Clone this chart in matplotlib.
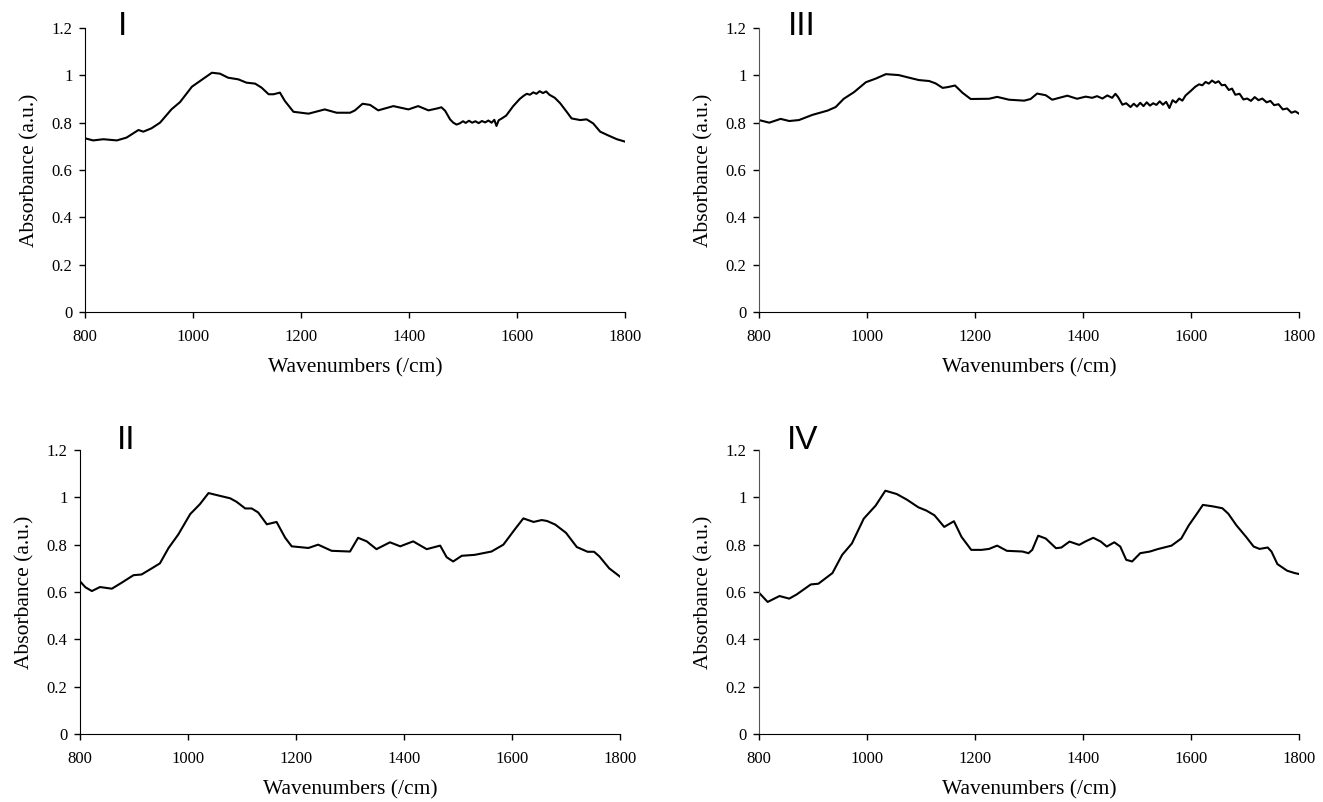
import matplotlib.pyplot as plt

# Spectra (wavenumber in /cm, absorbance in a.u.)
wn_I = [800, 815, 834, 859, 877, 899, 908, 923, 939, 960, 976, 998, 1013, 1035, 1050, 1065, 1084, 1099,
        1115, 1127, 1140, 1149, 1161, 1170, 1186, 1214, 1244, 1266, 1291, 1300, 1314, 1328, 1343, 1371,
        1399, 1417, 1436, 1454, 1460, 1467, 1476, 1482, 1488, 1494, 1500, 1505, 1511, 1517, 1523, 1529,
        1535, 1541, 1547, 1553, 1558, 1562, 1566, 1572, 1580, 1593, 1605, 1612, 1618, 1624, 1630, 1636,
        1642, 1648, 1654, 1660, 1670, 1680, 1692, 1701, 1717, 1729, 1741, 1754, 1770, 1785, 1800]
abs_I = [0.734, 0.725, 0.730, 0.725, 0.737, 0.769, 0.762, 0.776, 0.800, 0.856, 0.887, 0.952, 0.976, 1.011,
         1.007, 0.990, 0.983, 0.969, 0.965, 0.948, 0.920, 0.920, 0.927, 0.892, 0.846, 0.838, 0.856, 0.842,
         0.842, 0.852, 0.880, 0.875, 0.852, 0.870, 0.856, 0.870, 0.852, 0.861, 0.865, 0.850, 0.814, 0.800,
         0.792, 0.797, 0.806, 0.799, 0.808, 0.800, 0.806, 0.798, 0.807, 0.801, 0.809, 0.800, 0.812, 0.786,
         0.810, 0.818, 0.830, 0.870, 0.900, 0.913, 0.922, 0.918, 0.928, 0.922, 0.933, 0.925, 0.932, 0.918,
         0.905, 0.882, 0.846, 0.818, 0.811, 0.814, 0.797, 0.762, 0.745, 0.730, 0.720]

wn_II = [800, 810, 822, 837, 859, 877, 899, 914, 933, 948, 964, 982, 1004, 1022, 1038, 1056, 1078, 1090,
         1106, 1118, 1130, 1146, 1164, 1180, 1192, 1223, 1241, 1266, 1300, 1315, 1331, 1349, 1374, 1393,
         1417, 1442, 1467, 1479, 1491, 1507, 1531, 1562, 1584, 1605, 1621, 1640, 1655, 1665, 1680, 1700,
         1720, 1740, 1752, 1762, 1780, 1800]
abs_II = [0.645, 0.620, 0.604, 0.621, 0.614, 0.639, 0.671, 0.674, 0.700, 0.721, 0.786, 0.843, 0.929, 0.971,
          1.018, 1.008, 0.996, 0.981, 0.953, 0.953, 0.936, 0.886, 0.896, 0.829, 0.793, 0.786, 0.800, 0.774,
          0.771, 0.829, 0.814, 0.781, 0.810, 0.793, 0.814, 0.781, 0.796, 0.747, 0.729, 0.753, 0.757, 0.771,
          0.800, 0.864, 0.911, 0.896, 0.904, 0.900, 0.885, 0.850, 0.790, 0.770, 0.770, 0.750, 0.700, 0.665]

wn_III = [800, 819, 840, 856, 874, 899, 927, 942, 957, 976, 998, 1016, 1035, 1059, 1078, 1096, 1115, 1127,
          1140, 1149, 1163, 1177, 1192, 1226, 1241, 1263, 1291, 1303, 1315, 1331, 1343, 1371, 1389, 1405,
          1417, 1426, 1436, 1445, 1454, 1460, 1465, 1473, 1480, 1488, 1494, 1500, 1506, 1512, 1518, 1524,
          1530, 1536, 1542, 1548, 1554, 1560, 1566, 1572, 1578, 1584, 1590, 1600, 1608, 1615, 1621, 1627,
          1633, 1639, 1645, 1651, 1657, 1663, 1670, 1676, 1682, 1690, 1697, 1704, 1711, 1718, 1725, 1732,
          1740, 1747, 1754, 1762, 1770, 1778, 1786, 1793, 1800]
abs_III = [0.811, 0.800, 0.816, 0.807, 0.811, 0.833, 0.851, 0.866, 0.901, 0.929, 0.971, 0.986, 1.005, 1.001,
           0.990, 0.980, 0.976, 0.966, 0.947, 0.950, 0.957, 0.926, 0.900, 0.901, 0.909, 0.897, 0.893, 0.900,
           0.923, 0.916, 0.897, 0.914, 0.901, 0.910, 0.905, 0.912, 0.902, 0.915, 0.905, 0.922, 0.908, 0.876,
           0.882, 0.866, 0.880, 0.868, 0.884, 0.870, 0.886, 0.872, 0.882, 0.875, 0.890, 0.876, 0.888, 0.862,
           0.895, 0.885, 0.902, 0.893, 0.915, 0.935, 0.952, 0.962, 0.958, 0.972, 0.965, 0.978, 0.968, 0.975,
           0.958, 0.960, 0.938, 0.944, 0.918, 0.922, 0.898, 0.902, 0.892, 0.908, 0.895, 0.902, 0.886, 0.892,
           0.874, 0.878, 0.856, 0.860, 0.842, 0.848, 0.838]

wn_IV = [800, 816, 838, 856, 870, 896, 910, 936, 954, 972, 994, 1016, 1034, 1055, 1074, 1095, 1110, 1125,
         1143, 1161, 1175, 1193, 1212, 1226, 1241, 1259, 1288, 1299, 1306, 1317, 1331, 1350, 1360, 1375,
         1393, 1404, 1419, 1433, 1444, 1458, 1469, 1480, 1491, 1506, 1524, 1538, 1564, 1582, 1596, 1611,
         1622, 1640, 1658, 1669, 1684, 1702, 1716, 1727, 1742, 1749, 1760, 1778, 1792, 1800]
abs_IV = [0.597, 0.558, 0.583, 0.572, 0.590, 0.632, 0.635, 0.680, 0.757, 0.805, 0.910, 0.965, 1.028, 1.014,
          0.990, 0.958, 0.944, 0.924, 0.875, 0.899, 0.833, 0.778, 0.778, 0.782, 0.796, 0.774, 0.771, 0.764,
          0.778, 0.838, 0.826, 0.785, 0.788, 0.813, 0.799, 0.813, 0.829, 0.813, 0.792, 0.810, 0.792, 0.736,
          0.729, 0.764, 0.771, 0.781, 0.796, 0.826, 0.882, 0.931, 0.968, 0.962, 0.954, 0.931, 0.882, 0.833,
          0.792, 0.782, 0.788, 0.771, 0.718, 0.690, 0.680, 0.676]

x_ticks = [800, 1000, 1200, 1400, 1600, 1800]
y_ticks = [0, 0.2, 0.4, 0.6, 0.8, 1.0, 1.2]
y_tick_labels = ['0', '0.2', '0.4', '0.6', '0.8', '1', '1.2']

W, H = 1323, 802
fig = plt.figure(figsize=(W / 100, H / 100), dpi=100)

# Panel boxes in pixels: (left, right, top, bottom) and tag anchor in axes coords
panels = [
    ('I', wn_I, abs_I, (85, 625, 28, 312), (0.060, 1.007)),
    ('III', wn_III, abs_III, (759, 1299, 28, 312), (0.054, 1.004)),
    ('II', wn_II, abs_II, (80, 620, 450, 734), (0.068, 1.032)),
    ('IV', wn_IV, abs_IV, (759, 1299, 450, 734), (0.052, 1.032)),
]

for name, wn, absb, (l, r, t, b), (tx, ty) in panels:
    ax = fig.add_axes([l / W, 1 - b / H, (r - l) / W, (b - t) / H])
    ax.plot(wn, absb, color='black', lw=1.5)

    ## Axis styling: only left and bottom spines, outward short ticks
    ax.set_xlim(800, 1800)
    ax.set_ylim(0, 1.2)
    ax.set_xticks(x_ticks)
    ax.set_yticks(y_ticks)
    ax.set_yticklabels(y_tick_labels)
    for side in ['top', 'right']:
        ax.spines[side].set_visible(False)
    ax.spines['left'].set_color('#555555' if name in ('III', 'IV') else 'black')
    ax.spines['bottom'].set_color('black')
    ax.tick_params(direction='out', length=4, width=1, labelsize=12)
    ax.tick_params(axis='x', pad=8)
    ax.tick_params(axis='y', pad=5)
    for lbl in ax.get_xticklabels() + ax.get_yticklabels():
        lbl.set_fontfamily('Liberation Serif')

    ax.set_xlabel('Wavenumbers (/cm)', fontsize=15.5, family='Liberation Serif', labelpad=10)
    ax.set_ylabel('Absorbance (a.u.)', fontsize=15.5, family='Liberation Serif', labelpad=9)

    ## Roman numeral panel tag, drawn above the plotting area
    ax.text(tx, ty, name, transform=ax.transAxes, fontsize=24, family='Liberation Sans',
            ha='left', va='center', clip_on=False)

fig.savefig('out.png', dpi=100)
